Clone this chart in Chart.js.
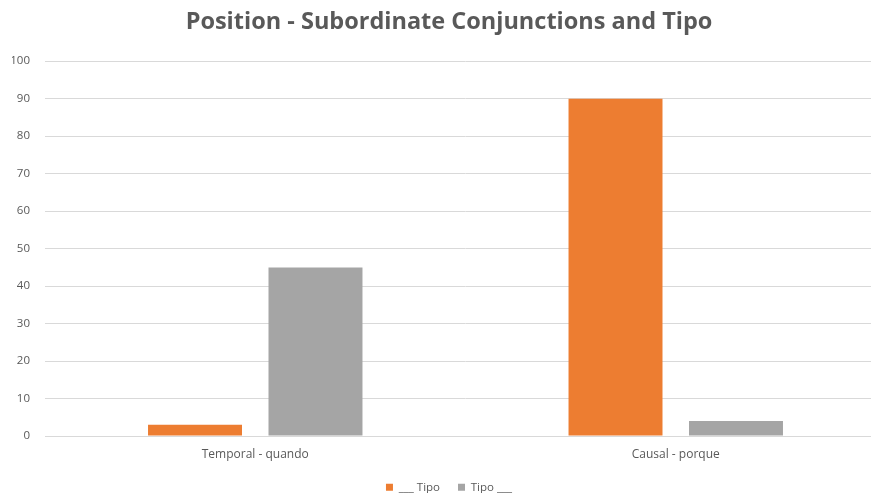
<!DOCTYPE html>
<html>
<head>
<meta charset="utf-8">
<script src="https://cdn.jsdelivr.net/npm/chart.js@4/dist/chart.umd.min.js"></script>
<style>
  html, body { margin: 0; padding: 0; background: #fff; overflow: hidden; }
  #view { width: 871px; height: 493px; overflow: hidden; position: relative; }
  #wrap { width: 898px; height: 493px; position: absolute; left: 0; top: 0; }
</style>
</head>
<body>
<div id="view"><div id="wrap"><canvas id="c"></canvas></div></div>
<script>
const categories = ['Temporal - quando', 'Causal - porque'];
const seriesNames = ['___ Tipo', 'Tipo ___'];
const tipoBefore = [3, 90];
const tipoAfter = [45, 4];
const yTicks = [0, 10, 20, 30, 40, 50, 60, 70, 80, 90, 100];

const textColor = '#595959';
const gridColor = '#d9d9d9';
const font = 'Open Sans';

new Chart(document.getElementById('c'), {
  type: 'bar',
  data: {
    labels: categories,
    datasets: [
      { label: seriesNames[0], data: tipoBefore, backgroundColor: '#ed7d31',
        categoryPercentage: 0.573, barPercentage: 0.78 },
      { label: seriesNames[1], data: tipoAfter, backgroundColor: '#a5a5a5',
        categoryPercentage: 0.573, barPercentage: 0.78 }
    ]
  },
  options: {
    responsive: true,
    maintainAspectRatio: false,
    animation: false,
    layout: { padding: { left: 12, right: 12, top: 0, bottom: -10 } },
    plugins: {
      title: {
        display: true,
        text: 'Position - Subordinate Conjunctions and Tipo',
        color: textColor,
        font: { family: font, size: 23.5, weight: 'bold' },
        padding: { top: 8, bottom: 25 }
      },
      legend: {
        position: 'bottom',
        labels: {
          color: textColor,
          font: { family: font, size: 11.5 },
          boxWidth: 7,
          boxHeight: 7,
          padding: 18
        }
      },
      tooltip: { enabled: false }
    },
    scales: {
      x: {
        grid: { display: false, drawTicks: false },
        border: { color: gridColor },
        ticks: { color: textColor, font: { family: font, size: 12, lineHeight: 0.95 }, padding: 13 },
        // let the category labels sit in the legend's empty top margin
        afterFit: (axis) => { axis.height -= 10; }
      },
      y: {
        min: 0, max: 100,
        afterBuildTicks: (axis) => { axis.ticks = yTicks.map(v => ({ value: v })); },
        // fixed axis width so the plot starts at x = 45
        afterFit: (axis) => { axis.width = 33; },
        grid: { color: gridColor, drawTicks: false },
        border: { display: false },
        ticks: { color: textColor, font: { family: font, size: 11.5 }, padding: 15 }
      }
    }
  }
});
</script>
</body>
</html>
